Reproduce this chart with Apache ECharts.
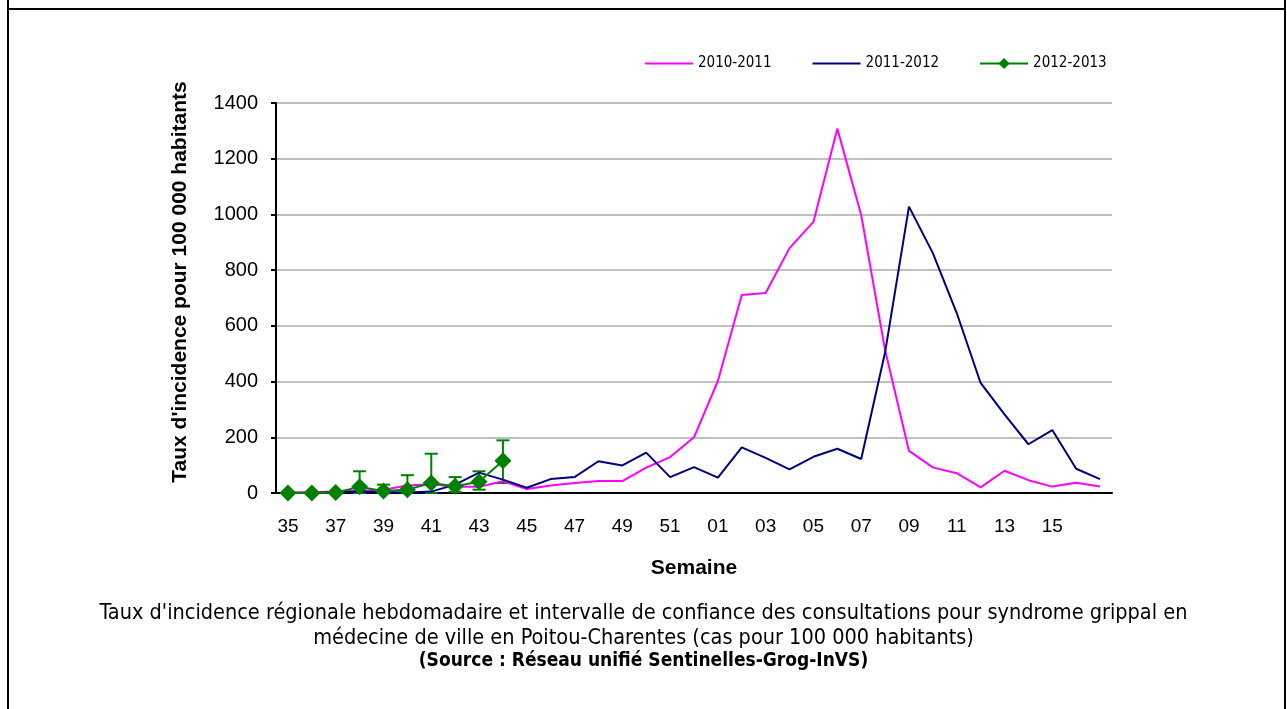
<!DOCTYPE html>
<html>
<head>
<meta charset="utf-8">
<script src="https://cdn.jsdelivr.net/npm/echarts@6/dist/echarts.min.js"></script>
<style>
  html, body { margin: 0; padding: 0; background: #ffffff; }
  #chart { width: 1287px; height: 709px; }
</style>
</head>
<body>
<div id="chart"></div>
<script>
// semaines 35 -> 17
var weeks = ['35', '36', '37', '38', '39', '40', '41', '42', '43', '44', '45', '46', '47', '48', '49', '50', '51', '52',
  '01', '02', '03', '04', '05', '06', '07', '08', '09', '10', '11', '12', '13', '14', '15', '16', '17']

var s2010 = [3, 3, 5, 8, 12, 27, 31, 22, 22, 42, 14, 27, 36, 43, 43, 91, 129, 200,
  402, 711, 718, 879, 973, 1308, 998, 513, 151, 92, 71, 20, 80, 46, 23, 37, 23]

var s2011 = [0, 0, 3, 5, 4, 2, 5, 30, 73, 48, 19, 50, 57, 114, 99, 145, 57, 93,
  55, 164, 126, 85, 130, 159, 122, 505, 1028, 861, 646, 395, 282, 175, 226, 87, 50]

var s2012 = [0, 0, 2, 22, 7, 12, 36, 24, 40, 116]
// intervalle de confiance 2012-2013
var ciLow = [null, null, null, 0, 0, 0, 0, 4, 12, 36]
var ciHigh = [null, null, null, 78, 30, 64, 141, 57, 78, 189]

var yTicks = { min: 0, max: 1400, interval: 200 }

var ciData = []
for (var i = 0; i < s2012.length; i++) {
  if (ciLow[i] !== null) ciData.push([i, ciLow[i], ciHigh[i]])
}

var narrow = "'Liberation Sans Narrow', 'DejaVu Sans Condensed', sans-serif"
var arial = "'Liberation Sans', Arial, sans-serif"

var myChart = echarts.init(document.getElementById('chart'))
myChart.setOption({
  animation: false,
  backgroundColor: '#ffffff',
  grid: { left: 276, right: 175, top: 103, bottom: 216 },
  legend: {
    left: 639,
    top: 51,
    itemWidth: 48,
    itemHeight: 14,
    itemGap: 40,
    textStyle: { fontFamily: narrow, fontSize: 15, color: '#000' },
    data: [
      { name: '2010-2011', itemStyle: { opacity: 0 } },
      { name: '2011-2012', itemStyle: { opacity: 0 } },
      { name: '2012-2013' }
    ]
  },
  xAxis: {
    type: 'category',
    data: weeks,
    name: 'Semaine',
    nameLocation: 'middle',
    nameGap: 65,
    nameTextStyle: { fontFamily: arial, fontSize: 21, fontWeight: 'bold', color: '#000' },
    axisLine: { lineStyle: { color: '#000', width: 2 } },
    axisTick: { interval: 0, length: 6, lineStyle: { color: '#000', width: 2 } },
    axisLabel: {
      interval: function (idx) { return idx % 2 === 0 && idx < 34 },
      margin: 24,
      fontFamily: arial,
      fontSize: 19,
      color: '#000'
    }
  },
  yAxis: {
    type: 'value',
    min: yTicks.min,
    max: yTicks.max,
    interval: yTicks.interval,
    name: "Taux d'incidence pour 100 000 habitants",
    nameLocation: 'middle',
    nameGap: 85,
    nameTextStyle: {
      fontFamily: arial, fontSize: 21, fontWeight: 'bold', color: '#000',
      padding: [0, 0, 0, 32]
    },
    axisLine: { show: true, lineStyle: { color: '#000', width: 2 } },
    axisTick: { show: true, length: 5, lineStyle: { color: '#000', width: 2 } },
    axisLabel: {
      margin: 18, fontFamily: arial, fontSize: 20, color: '#000',
      formatter: function (v) { return String(v) }
    },
    splitLine: { lineStyle: { color: '#BFBFBF', width: 2 } }
  },
  series: [
    {
      name: '2010-2011',
      type: 'line',
      data: s2010,
      symbol: 'none',
      color: '#FF00FF',
      lineStyle: { width: 2 }
    },
    {
      name: '2011-2012',
      type: 'line',
      data: s2011,
      symbol: 'none',
      color: '#000080',
      lineStyle: { width: 2 }
    },
    {
      name: 'ci',
      type: 'custom',
      data: ciData,
      z: 3,
      renderItem: function (params, api) {
        var lo = api.coord([api.value(0), api.value(1)])
        var hi = api.coord([api.value(0), api.value(2)])
        var w = 6.5
        var st = { stroke: '#008000', lineWidth: 2 }
        return {
          type: 'group',
          children: [
            { type: 'line', shape: { x1: lo[0], y1: lo[1], x2: hi[0], y2: hi[1] }, style: st },
            { type: 'line', shape: { x1: hi[0] - w, y1: hi[1], x2: hi[0] + w, y2: hi[1] }, style: st },
            { type: 'line', shape: { x1: lo[0] - w, y1: lo[1], x2: lo[0] + w, y2: lo[1] }, style: st }
          ]
        }
      }
    },
    {
      name: '2012-2013',
      type: 'line',
      data: s2012,
      symbol: 'diamond',
      symbolSize: 17,
      showAllSymbol: true,
      z: 4,
      color: '#008000',
      lineStyle: { width: 2 }
    }
  ],
  graphic: [
    { type: 'line', shape: { x1: 8, y1: 0, x2: 8, y2: 709 }, style: { stroke: '#000', lineWidth: 2 } },
    { type: 'line', shape: { x1: 1285, y1: 0, x2: 1285, y2: 709 }, style: { stroke: '#000', lineWidth: 2 } },
    { type: 'line', shape: { x1: 8, y1: 9, x2: 1285, y2: 9 }, style: { stroke: '#000', lineWidth: 2 } },
    {
      type: 'text', left: 'center', top: 602,
      style: {
        text: "Taux d'incidence régionale hebdomadaire et intervalle de confiance des consultations pour syndrome grippal en",
        font: '21.5px ' + narrow, fill: '#000'
      }
    },
    {
      type: 'text', left: 'center', top: 627,
      style: {
        text: 'médecine de ville en Poitou-Charentes (cas pour 100 000 habitants)',
        font: '21.5px ' + narrow, fill: '#000'
      }
    },
    {
      type: 'text', left: 'center', top: 652,
      style: {
        text: '(Source : Réseau unifié Sentinelles-Grog-InVS)',
        font: 'bold 19px ' + narrow, fill: '#000'
      }
    }
  ]
})
</script>
</body>
</html>
